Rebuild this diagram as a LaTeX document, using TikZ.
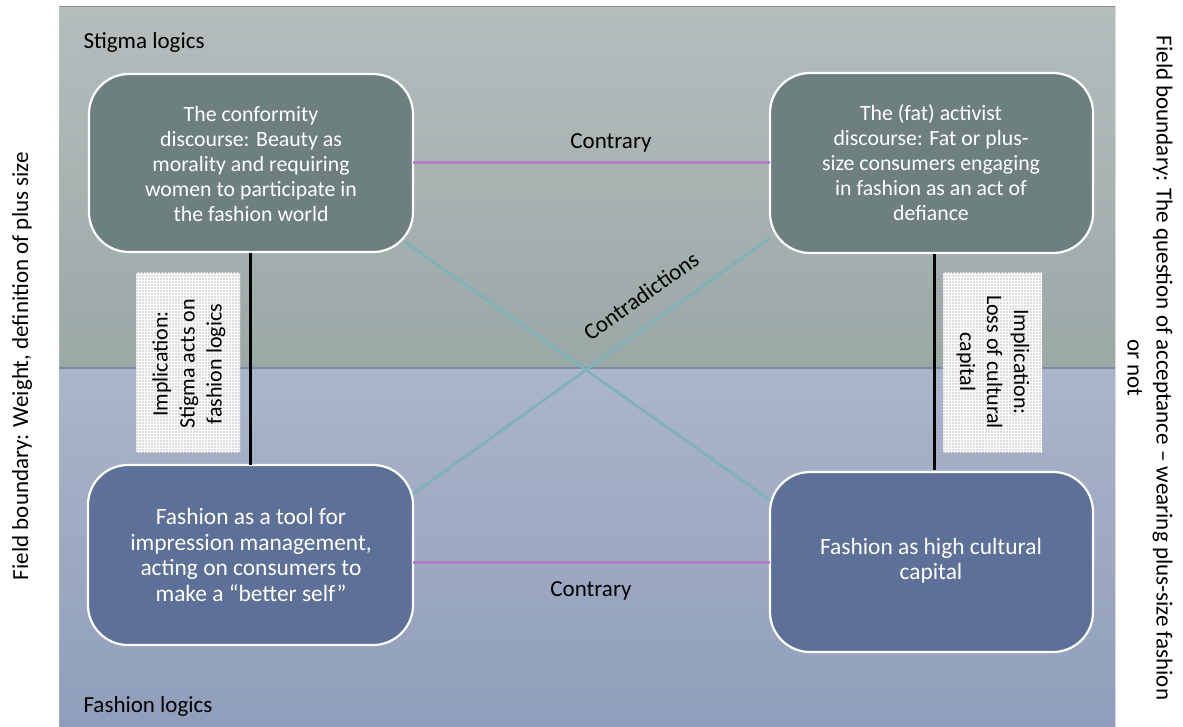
\documentclass[tikz,border=0pt]{standalone}
\usepackage{fontspec}
\setmainfont{Carlito}
\usetikzlibrary{patterns}
\definecolor{stigtop}{HTML}{B5BDBD}
\definecolor{stigbot}{HTML}{9AA8A6}
\definecolor{fashtop}{HTML}{ABB5CA}
\definecolor{fashbot}{HTML}{909EBB}
\definecolor{stigbox}{HTML}{6D7F7F}
\definecolor{fashbox}{HTML}{5D7098}
\definecolor{contrary}{HTML}{B07FC8}
\definecolor{contra}{HTML}{7FB2BA}
\definecolor{implfill}{HTML}{DADCDE}
\definecolor{divider}{HTML}{7C8C9C}
\tikzset{
  discbox/.style={draw=white, line width=2.2pt, rounded corners=40pt},
  boxtext/.style={text=white, align=center, font=\fontsize{21.8}{25}\selectfont},
  boxtextb/.style={text=white, align=center, font=\fontsize{23.4}{25.4}\selectfont},
  lbl/.style={text=black, font=\fontsize{23}{27}\selectfont},
  purpleline/.style={draw=contrary, line width=3pt},
  tealline/.style={draw=contra, line width=2.8pt},
  blackline/.style={draw=black, line width=3pt},
  implbox/.style={fill=implfill},
  impltext/.style={text=black, align=center, font=\fontsize{22}{27}\selectfont},
  sidetext/.style={text=black, align=center, font=\fontsize{23}{29}\selectfont}
}
\begin{document}
\begin{tikzpicture}[x=1pt,y=-1pt]
\useasboundingbox (0,0) rectangle (1183,727);
% background panels
\shade[top color=stigtop, bottom color=stigbot] (59,7) rectangle (1115,368);
\shade[top color=fashtop, bottom color=fashbot] (59,368) rectangle (1115,727);
\draw[color=black!45, line width=1pt] (59,7) -- (1115,7);
\draw[color=black!25, line width=0.8pt, dash pattern=on 1pt off 1pt] (59,7) -- (59,727);
\draw[color=black!25, line width=0.8pt, dash pattern=on 1pt off 1pt] (1115,7) -- (1115,727);
\draw[color=divider, line width=1.2pt] (59,368) -- (1115,368);
\node[lbl, anchor=west] (stig) at (80,42) {Stigma logics};
\node[lbl, anchor=west] (fash) at (80,706) {Fashion logics};
% implication boxes
\fill[implbox] (136,273) rectangle (240,452);
\fill[pattern=grid, pattern color=white] (136,273) rectangle (240,452);
\node[impltext, rotate=90] (impl1) at (189,364) {Implication:\\Stigma acts on\\fashion logics};
\fill[implbox] (943,273) rectangle (1042,452);
\fill[pattern=grid, pattern color=white] (943,273) rectangle (1042,452);
\node[impltext, rotate=-90] (impl2) at (993,362) {Implication:\\Loss of cultural\\capital};
% boxes
\path[discbox, fill=stigbox] (89,74) rectangle (413,252);
\path[discbox, fill=stigbox] (770,73) rectangle (1093,253);
\path[discbox, fill=fashbox] (88,465) rectangle (413,645);
\path[discbox, fill=fashbox] (770,472) rectangle (1093,652);
\node[boxtext] (tl) at (251,164) {The conformity\\discourse: Beauty as\\morality and requiring\\women to participate in\\the fashion world};
\node[boxtext] (tr) at (931,163) {The (fat) activist\\discourse: Fat or plus-\\size consumers engaging\\in fashion as an act of\\defiance};
\node[boxtextb] (bl) at (251,555) {Fashion as a tool for\\impression management,\\acting on consumers to\\make a \textquotedblleft better self\textquotedblright};
\node[boxtextb] (br) at (931,561) {Fashion as high cultural\\capital};
% anchor coordinates
\coordinate (tlR) at (413,163);
\coordinate (trL) at (770,163);
\coordinate (blR) at (413,562);
\coordinate (brL) at (770,562);
\coordinate (tlC) at (405,242);
\coordinate (brC) at (770,500);
\coordinate (blC) at (413,494);
\coordinate (trC) at (770,238);
\coordinate (tlB) at (250,253);
\coordinate (blT) at (250,465);
\coordinate (trB) at (934,254);
\coordinate (brT) at (934,470);
% connectors
\draw[purpleline] (tlR) -- (trL);
\draw[purpleline] (blR) -- (brL);
\draw[tealline] (tlC) -- (brC);
\draw[tealline] (blC) -- (trC);
\draw[blackline] (tlB) -- (blT);
\draw[blackline] (trB) -- (brT);
\node[lbl] (c1) at (611,143) {Contrary};
\node[lbl] (c2) at (591,591) {Contrary};
\node[lbl, rotate=35.7] (cd) at (641,296) {Contradictions};
% side texts
\node[sidetext, rotate=90] (lside) at (22,366) {Field boundary: Weight, definition of plus size};
\node[sidetext, rotate=-90] (rside) at (1150,368) {Field boundary: The question of acceptance -- wearing plus-size fashion\\or not};
\end{tikzpicture}
\end{document}
